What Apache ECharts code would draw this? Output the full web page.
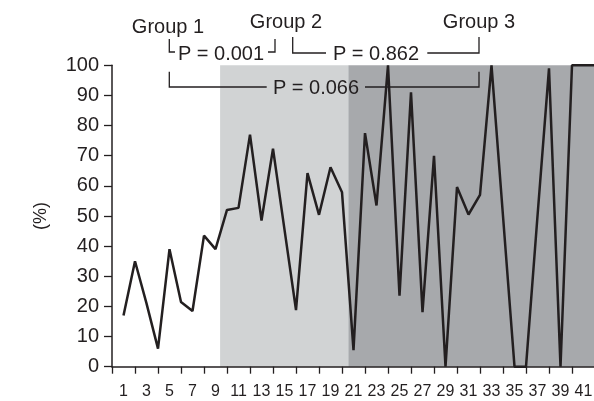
<!DOCTYPE html>
<html>
<head>
<meta charset="utf-8">
<script src="https://cdn.jsdelivr.net/npm/echarts@6/dist/echarts.min.js"></script>
<style>html,body{margin:0;padding:0;background:#fff}#c{width:594px;height:401px}</style>
</head>
<body>
<div id="c"></div>
<script>
// ---- data ----
var xIndex = [1,2,3,4,5,6,7,8,9,10,11,12,13,14,15,16,17,18,19,20,21,22,23,24,25,26,27,28,29,30,31,32,33,34,35,36,37,38,39,40,41,42];
var percent = [17,35,21,6,39,21.5,18.5,43.5,39,52,52.7,77,48.5,72.3,45.5,18.8,64.2,50.4,66.2,57.9,5.5,77.5,53.5,100,23.6,91,18.1,70,0,59.6,50.5,57,100,50,0,0,50,99,0,100,100,100];
var tickLabels = ['1','3','5','7','9','11','13','15','17','19','21','23','25','27','29','31','33','35','37','39','41'];
var yTicks = [0,10,20,30,40,50,60,70,80,90,100];
var groupBounds = [9.4, 20.55, 42]; // group 2 starts, group 3 starts, axis end
var groupNames = ['Group 1','Group 2','Group 3'];
var pTexts = ['P = 0.001','P = 0.862','P = 0.066'];

var ink = '#231f20';
var font = 'Liberation Sans, Arial, sans-serif';

var lineData = xIndex.map(function (x, i) { return [x, percent[i]]; });
var cats = [];
for (var k = 0; k <= 42; k++) cats.push(tickLabels.indexOf(String(k)) >= 0 ? String(k) : '');

function txt(t, x, y, size) {
  return { type: 'text', z: 10, style: { text: t, x: x, y: y, fill: ink, font: size + 'px ' + font, textAlign: 'center', textVerticalAlign: 'middle' } };
}
function pl(pts) {
  return { type: 'polyline', z: 10, shape: { points: pts }, style: { stroke: ink, lineWidth: 1.3, fill: null } };
}

var chart = echarts.init(document.getElementById('c'), null, { renderer: 'canvas' });
chart.setOption({
  animation: false,
  backgroundColor: '#ffffff',
  textStyle: { fontFamily: font, color: ink },
  grid: { left: 112, right: -1, top: 65.3, bottom: 34.3, containLabel: false, outerBoundsMode: 'none' },
  xAxis: [{
    type: 'value', position: 'bottom', min: 0, max: 42, interval: 2, z: 5,
    axisLine: { show: true, onZero: false, lineStyle: { color: ink, width: 1.5 } },
    axisTick: { show: true, inside: false, length: 7, lineStyle: { color: ink, width: 1.3 } },
    axisLabel: { show: false },
    splitLine: { show: false }
  }, {
    type: 'category', position: 'bottom', boundaryGap: false, data: cats, z: 5,
    axisLine: { show: false }, axisTick: { show: false }, splitLine: { show: false },
    axisLabel: { show: true, interval: 0, margin: 17, fontSize: 16, color: ink, fontFamily: font, hideOverlap: false }
  }],
  yAxis: {
    type: 'value', min: yTicks[0], max: yTicks[yTicks.length - 1], interval: 10, z: 5,
    name: '(%)', nameLocation: 'middle', nameRotate: 90, nameGap: 62,
    nameTextStyle: { fontSize: 18, color: ink, fontFamily: font },
    axisLine: { show: true, lineStyle: { color: ink, width: 1.5 } },
    axisTick: { show: true, inside: false, length: 8, lineStyle: { color: ink, width: 1.3 } },
    axisLabel: { show: true, margin: 13, fontSize: 20, color: ink, fontFamily: font, showMinLabel: true, showMaxLabel: true, hideOverlap: false },
    splitLine: { show: false }
  },
  series: [{
    type: 'line', xAxisIndex: 0, yAxisIndex: 0, data: lineData, symbol: 'none', z: 3,
    lineStyle: { color: ink, width: 2.5 },
    markArea: {
      silent: true, z: 1,
      data: [
        [{ xAxis: groupBounds[0], yAxis: yTicks[0], itemStyle: { color: '#d1d3d4' } }, { xAxis: groupBounds[1], yAxis: yTicks[yTicks.length - 1] }],
        [{ xAxis: groupBounds[1], yAxis: yTicks[0], itemStyle: { color: '#a7a9ac' } }, { xAxis: groupBounds[2], yAxis: yTicks[yTicks.length - 1] }]
      ]
    }
  }],
  graphic: [
    txt(groupNames[0], 168, 27, 20),
    txt(groupNames[1], 286, 22, 20),
    txt(groupNames[2], 479, 22, 20),
    txt(pTexts[0], 221, 54, 20),
    txt(pTexts[1], 376, 54, 20),
    txt(pTexts[2], 316, 88, 20),
    pl([[169.3, 39], [169.3, 52], [175, 52]]),
    pl([[268, 52], [275, 52], [275, 39]]),
    pl([[292.7, 37], [292.7, 53], [326, 53]]),
    pl([[427.3, 53], [479, 53], [479, 37]]),
    pl([[169.3, 71.7], [169.3, 87], [266.7, 87]]),
    pl([[365, 87], [479, 87], [479, 71.7]])
  ]
});
</script>
</body>
</html>
